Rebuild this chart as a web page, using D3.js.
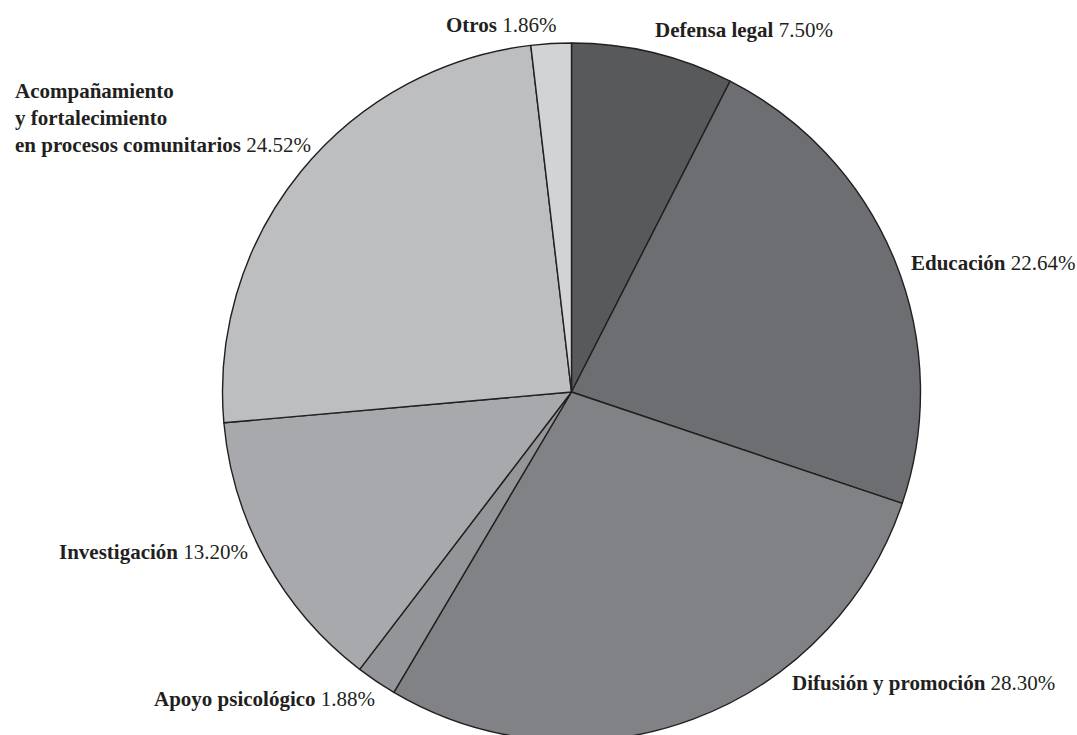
<!DOCTYPE html>
<html>
<head>
<meta charset="utf-8">
<script src="https://cdn.jsdelivr.net/npm/d3@7"></script>
<style>
  html, body { margin: 0; padding: 0; background: #fff; }
  svg { display: block; }
  .lbl { font-family: "Liberation Serif", "DejaVu Serif", serif; font-size: 21px; fill: #231f20; }
  .lbl .name { font-weight: bold; }
</style>
</head>
<body>
<div id="chart"></div>
<script>
// Category shares, clockwise from 12 o'clock
const categories = ["Defensa legal", "Educación", "Difusión y promoción", "Apoyo psicológico",
                    "Investigación", "Acompañamiento y fortalecimiento en procesos comunitarios", "Otros"];
const values = [7.50, 22.64, 28.30, 1.88, 13.20, 24.52, 1.86];
const fills = ["#58595b", "#6d6e71", "#808285", "#939598", "#a7a9ac", "#bcbec0", "#d1d3d4"];
// label text lines (bold part per line), last line carries the percent
const labelLines = [
  ["Defensa legal"],
  ["Educación"],
  ["Difusión y promoción"],
  ["Apoyo psicológico"],
  ["Investigación"],
  ["Acompañamiento", "y fortalecimiento", "en procesos comunitarios"],
  ["Otros"]
];

(function () {
  const W = 1077, H = 735;
  const cx = 571.5, cy = 392, R = 349;

  const svg = d3.select("#chart").append("svg")
    .attr("width", W).attr("height", H)
    .attr("viewBox", [0, 0, W, H]);

  const pie = d3.pie().sort(null).value(d => d);
  const arcs = pie(values);
  const arc = d3.arc().innerRadius(0).outerRadius(R);

  const g = svg.append("g").attr("transform", `translate(${cx},${cy})`);
  g.selectAll("path").data(arcs).join("path")
    .attr("d", arc)
    .attr("fill", (d, i) => fills[i])
    .attr("stroke", "#231f20")
    .attr("stroke-width", 1.4)
    .attr("stroke-linejoin", "round");

  // label anchors (text start, first baseline) placed by eye around the pie
  const labelPos = [
    [655, 37], [911, 270], [792, 690], [154, 706], [59, 559], [15, 98], [446, 32]
  ];
  const lineGap = 27;

  const lbl = svg.append("g").selectAll("text").data(arcs).join("text")
    .attr("class", "lbl")
    .attr("x", (d, i) => labelPos[i][0])
    .attr("y", (d, i) => labelPos[i][1]);

  lbl.each(function (d, i) {
    const t = d3.select(this);
    const lines = labelLines[i];
    lines.forEach((ln, k) => {
      const ts = t.append("tspan").attr("class", "name").text(ln);
      if (k > 0) ts.attr("x", labelPos[i][0]).attr("dy", lineGap);
    });
    t.append("tspan").text(" " + values[i].toFixed(2) + "%");
  });
})();
</script>
</body>
</html>
